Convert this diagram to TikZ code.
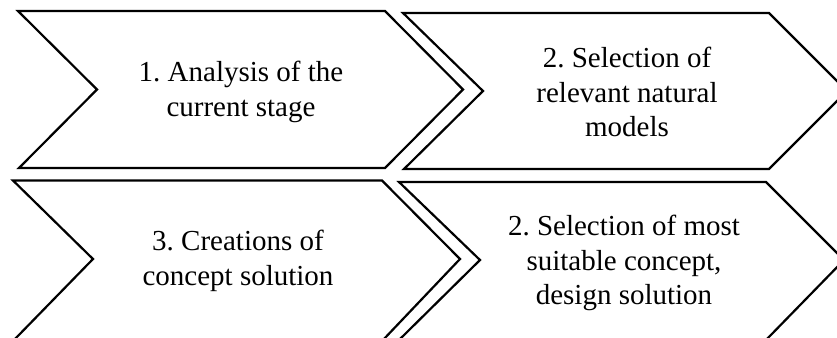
\documentclass[tikz,border=0pt]{standalone}
\usepackage{fontspec}
\setmainfont{Liberation Serif}
\begin{document}
\frenchspacing
\begin{tikzpicture}[x=1pt,y=-1pt,
  chev/.style={draw=black,line width=2.2pt,line join=miter,fill=white},
  lbl/.style={align=center,font=\fontsize{29}{34.5}\selectfont,inner sep=0pt}]
\useasboundingbox (0,0) rectangle (837,337);
\clip (0,0) rectangle (837,337);
% chevron 1
\draw[chev] (18,11) -- (385,11) -- (463,89.5) -- (385,168) -- (19,168) -- (97,89.5) -- cycle;
% chevron 2
\draw[chev] (403,13) -- (769,13) -- (847,91) -- (769,169) -- (404,169) -- (483,91) -- cycle;
% chevron 3
\draw[chev] (13,180.5) -- (382,180.5) -- (460,259) -- (383,340) -- (14,340) -- (93,259) -- cycle;
% chevron 4
\draw[chev] (399,182) -- (766,182) -- (844,260) -- (766,340) -- (399,340) -- (480,260) -- cycle;
\node[lbl] (t1) at (241,92) {1. Analysis of the\\current stage};
\node[lbl] (t2) at (627,92) {2. Selection of\\relevant natural\\models};
\node[lbl] (t3) at (238,261) {3. Creations of\\concept solution};
\node[lbl] (t4) at (624,263) {2. Selection of most\\suitable concept,\\design solution};
\end{tikzpicture}
\end{document}
